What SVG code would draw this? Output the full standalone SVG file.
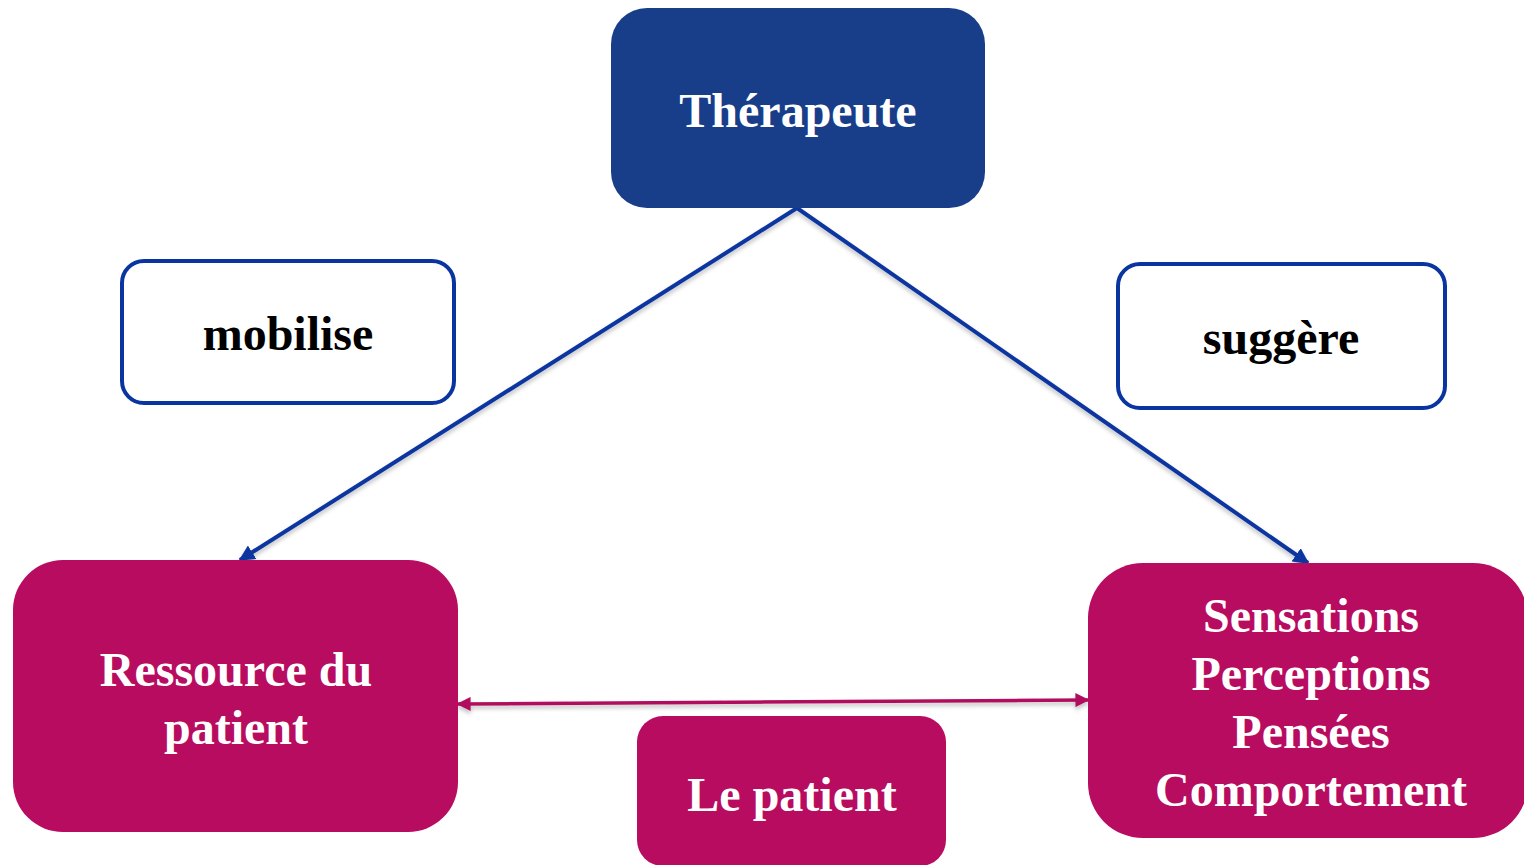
<svg xmlns="http://www.w3.org/2000/svg" width="1524" height="865" viewBox="0 0 1524 865">
<style>
.t{font-family:"Liberation Serif","Times New Roman",serif;font-weight:bold;font-size:48px;text-anchor:middle}
.w{fill:#ffffff}
.k{fill:#000000}
.pink{fill:#b80c60}
.lbl{fill:#ffffff;stroke:#0a35a0;stroke-width:4}
</style>
<defs>
<marker id="ab" viewBox="0 0 10 10" refX="9" refY="5" markerWidth="4" markerHeight="4" orient="auto"><path d="M0,0 L10,5 L0,10 z" fill="#0a35a0"/></marker>
<marker id="ap" viewBox="0 0 10 10" refX="9" refY="5" markerWidth="4" markerHeight="4" orient="auto-start-reverse"><path d="M0,0 L10,5 L0,10 z" fill="#b0105e"/></marker>
<filter id="sh" x="-10%" y="-10%" width="120%" height="130%"><feDropShadow dx="0" dy="3" stdDeviation="2" flood-color="#000" flood-opacity="0.25"/></filter>
</defs>
<g id="connectors" filter="url(#sh)">
<path d="M797,208 L240,560" stroke="#0a35a0" stroke-width="4" fill="none" marker-end="url(#ab)"/>
<path d="M797,208 L1308,563" stroke="#0a35a0" stroke-width="4" fill="none" marker-end="url(#ab)"/>
<path d="M458,704 L1088,700" stroke="#b0105e" stroke-width="3.5" fill="none" marker-start="url(#ap)" marker-end="url(#ap)"/>
</g>
<g id="therapeute">
<rect x="611" y="8" width="374" height="200" rx="36" fill="#183e8a"/>
<text class="t w" x="798" y="127">Thérapeute</text>
</g>
<g id="mobilise">
<rect class="lbl" x="122" y="261" width="332" height="142" rx="22"/>
<text class="t k" x="288" y="350">mobilise</text>
</g>
<g id="suggere">
<rect class="lbl" x="1118" y="264" width="327" height="144" rx="22"/>
<text class="t k" x="1281" y="354">suggère</text>
</g>
<g id="ressource">
<rect class="pink" x="13" y="560" width="445" height="272" rx="50"/>
<text class="t w" x="236" y="686">Ressource du</text>
<text class="t w" x="236" y="744">patient</text>
</g>
<g id="sensations">
<rect class="pink" x="1088" y="563" width="440" height="275" rx="55"/>
<text class="t w" x="1311" y="632">Sensations</text>
<text class="t w" x="1311" y="690">Perceptions</text>
<text class="t w" x="1311" y="748">Pensées</text>
<text class="t w" x="1311" y="806">Comportement</text>
</g>
<g id="patient">
<rect class="pink" x="637" y="716" width="309" height="150" rx="26"/>
<text class="t w" x="792" y="811">Le patient</text>
</g>
</svg>
